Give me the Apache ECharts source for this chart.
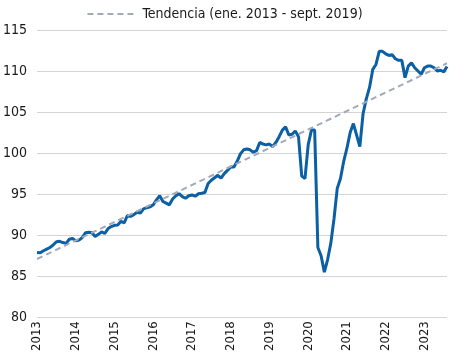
<!DOCTYPE html>
<html>
<head>
<meta charset="utf-8">
<script src="https://cdn.jsdelivr.net/npm/echarts@6/dist/echarts.min.js"></script>
<style>
  html, body { margin: 0; padding: 0; background: #fff; }
  #chart { width: 449px; height: 354px; }
</style>
</head>
<body>
<div id="chart"></div>
<script>
// meses ene. 2013 - ago. 2023
var years = ['2013', '2014', '2015', '2016', '2017', '2018', '2019', '2020', '2021', '2022', '2023'];

// indice mensual
var indice = [
    87.9, 87.85, 88.1, 88.3, 88.5, 88.8, 89.2, 89.25, 89.1, 89.0, 89.5, 89.6,        // 2013
    89.3, 89.4, 89.7, 90.3, 90.35, 90.3, 89.85, 90.1, 90.4, 90.2, 90.8, 91.05,       // 2014
    91.2, 91.25, 91.7, 91.5, 92.4, 92.3, 92.5, 92.8, 92.7, 93.2, 93.35, 93.45,       // 2015
    93.7, 94.3, 94.8, 94.1, 93.9, 93.7, 94.4, 94.8, 95.05, 94.7, 94.5, 94.8,         // 2016
    94.9, 94.75, 95.05, 95.1, 95.2, 96.3, 96.7, 97.0, 97.3, 96.95, 97.5, 97.9,       // 2017
    98.3, 98.3, 99.0, 99.9, 100.4, 100.5, 100.4, 100.1, 100.3, 101.3, 101.1, 101.0,  // 2018
    101.1, 100.8, 101.3, 102.0, 102.8, 103.2, 102.2, 102.3, 102.7, 102.0, 97.2, 96.9, // 2019
    101.0, 102.8, 102.8, 88.5, 87.5, 85.5, 87.0, 89.0, 92.0, 95.7, 96.9, 99.0,       // 2020
    100.6, 102.5, 103.6, 102.2, 100.8, 104.8, 106.6, 108.0, 110.2, 110.8, 112.4, 112.4, // 2021
    112.1, 111.9, 112.0, 111.5, 111.3, 111.3, 109.2, 110.6, 111.0, 110.4, 110.0, 109.6, // 2022
    110.4, 110.6, 110.6, 110.4, 110.0, 110.1, 109.9, 110.55                          // 2023
];

// tendencia lineal: valor al inicio y al final del periodo
var tendenciaIni = 87.1;
var tendenciaFin = 110.95;

var meses = [];
for (var i = 0; i < indice.length; i++) {
    var y = years[Math.floor(i / 12)];
    var m = (i % 12) + 1;
    meses.push(y + '-' + (m < 10 ? '0' + m : m));
}

var fuente = "'Liberation Sans Narrow', 'DejaVu Sans Condensed', sans-serif";

var myChart = echarts.init(document.getElementById('chart'));

var option = {
    animation: false,
    textStyle: { fontFamily: fuente },
    legend: {
        top: 2,
        left: 'center',
        itemWidth: 50,
        itemHeight: 10,
        itemGap: 6,
        itemStyle: { opacity: 0, borderWidth: 0 },
        textStyle: { fontSize: 14, color: '#1a1a1a', fontFamily: fuente },
        data: ['Tendencia (ene. 2013 - sept. 2019)']
    },
    grid: { left: 30, right: 2, top: 30, bottom: 36, containLabel: false },
    xAxis: {
        type: 'category',
        boundaryGap: false,
        data: meses,
        axisLine: { show: false },
        axisTick: { show: false },
        axisLabel: {
            rotate: 90,
            margin: 4,
            fontSize: 13,
            color: '#1a1a1a',
            fontFamily: fuente,
            interval: function (index) { return index % 12 === 0; },
            formatter: function (v) { return v.slice(0, 4); }
        },
        splitLine: { show: false }
    },
    yAxis: {
        type: 'value',
        min: 80,
        max: 115,
        interval: 5,
        axisLine: { show: false },
        axisTick: { show: false },
        axisLabel: { fontSize: 14, color: '#1a1a1a', margin: 10, fontFamily: fuente },
        splitLine: { lineStyle: { color: '#d4d4d4', width: 1 } }
    },
    series: [
        {
            name: 'Tendencia (ene. 2013 - sept. 2019)',
            type: 'line',
            symbol: 'none',
            data: [[meses[0], tendenciaIni], [meses[meses.length - 1], tendenciaFin]],
            lineStyle: { color: '#a2a9b9', width: 2, type: [6, 4] },
            itemStyle: { color: '#a2a9b9' },
            z: 3
        },
        {
            name: 'Indice',
            type: 'line',
            symbol: 'none',
            data: indice,
            lineStyle: { color: '#0b5fa5', width: 3 },
            itemStyle: { color: '#0b5fa5' },
            z: 2
        }
    ]
};

myChart.setOption(option);
</script>
</body>
</html>
